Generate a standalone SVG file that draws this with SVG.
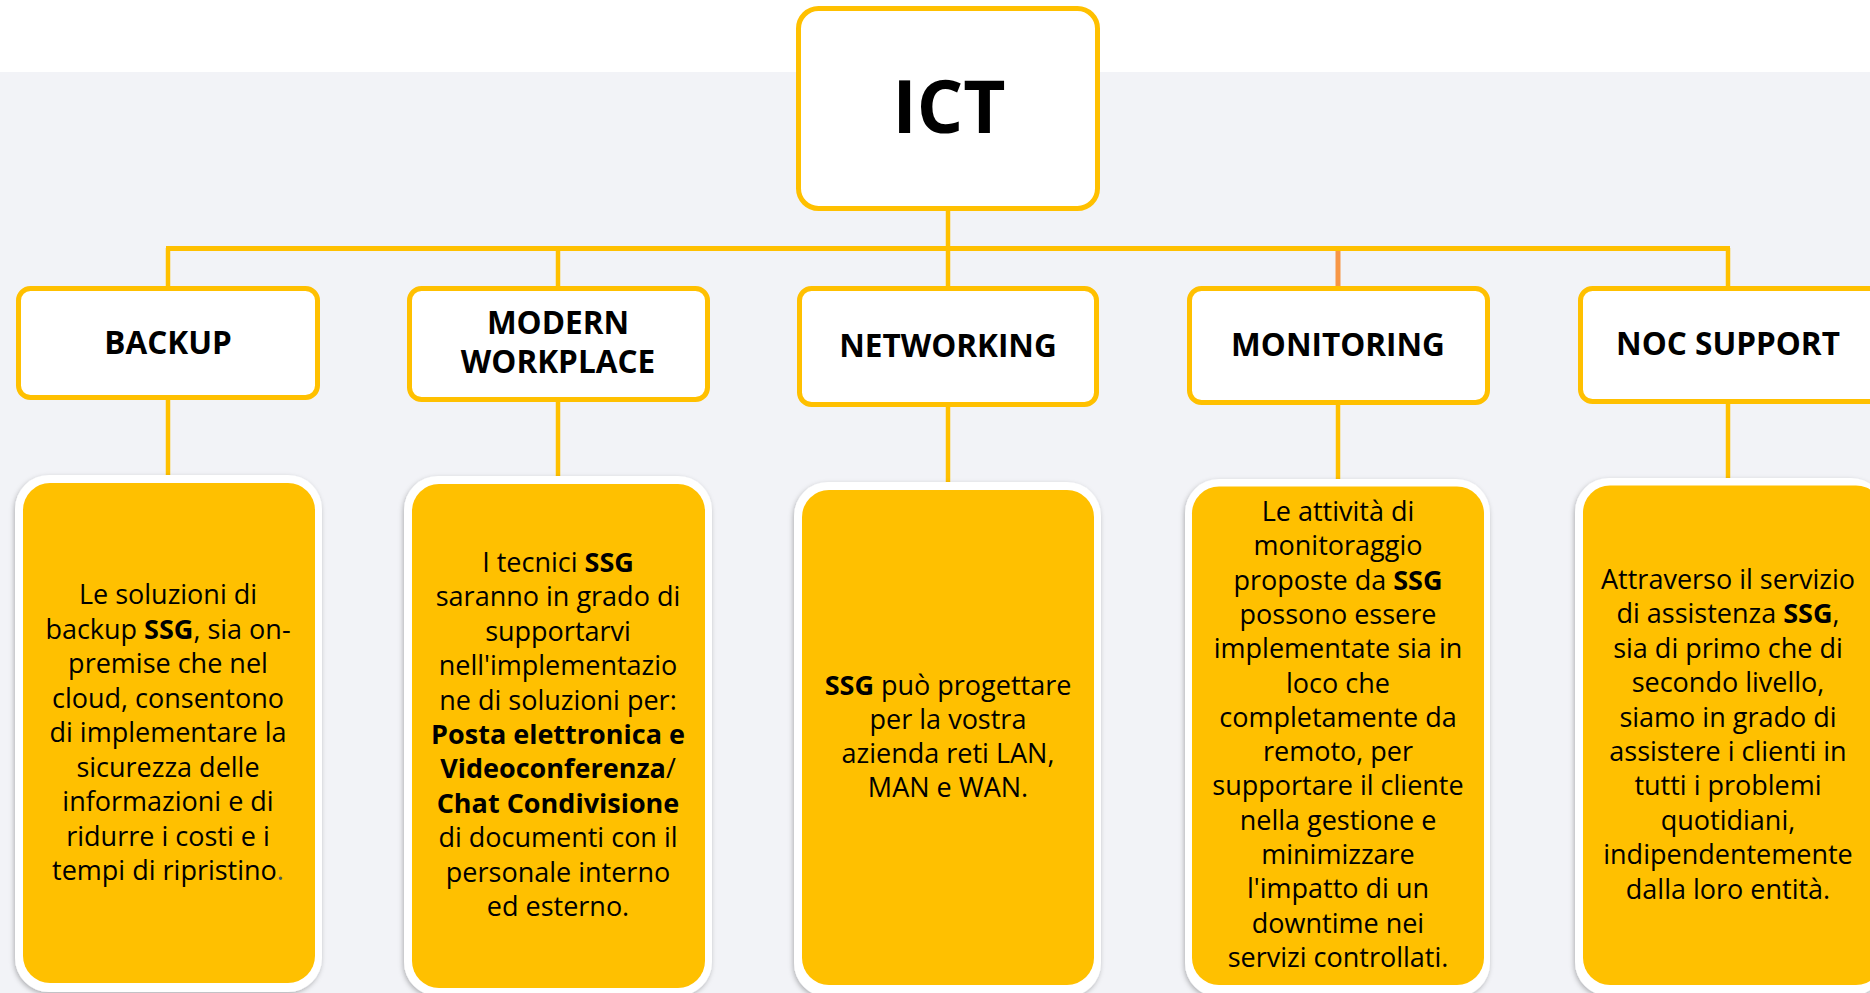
<svg xmlns="http://www.w3.org/2000/svg" width="1870" height="993" viewBox="0 0 1870 993">
<defs>
<filter id="sh" x="-10%" y="-10%" width="120%" height="120%">
<feDropShadow dx="-1" dy="2" stdDeviation="2.5" flood-color="#000" flood-opacity="0.28"/>
</filter>
<style>
.cat{fill:#fff;stroke:#FFC000;stroke-width:5}
.cl{font-family:"Open Sans","Liberation Sans",sans-serif;font-weight:700;font-size:31.5px;fill:#000;text-anchor:middle}
.ict{font-family:"Open Sans","Liberation Sans",sans-serif;font-weight:700;font-size:73px;fill:#000;text-anchor:middle}
.outer{fill:#fff;filter:url(#sh)}
.inner{fill:#FFC000}
.dt{font-family:"Open Sans","Liberation Sans",sans-serif;font-size:27px;fill:#000;text-anchor:middle}
.b{font-weight:700}
.ln{stroke:#FFC000;stroke-width:4.5;fill:none}
.bus{stroke:#FFC000;stroke-width:5;fill:none}
.or{stroke:#F79646;stroke-width:5;fill:none}
</style>
</defs>
<rect x="0" y="0" width="1870" height="993" fill="#fff"/>
<rect x="0" y="72" width="1870" height="921" fill="#F2F3F7"/>

<g id="connectors">
<line class="ln" x1="948" y1="210" x2="948" y2="248"/>
<line class="bus" x1="166" y1="248.5" x2="1730" y2="248.5"/>
<line class="ln" x1="168" y1="248" x2="168" y2="288"/>
<line class="ln" x1="558" y1="248" x2="558" y2="288"/>
<line class="ln" x1="948" y1="248" x2="948" y2="288"/>
<line class="or" x1="1338" y1="251" x2="1338" y2="287"/>
<line class="ln" x1="1728" y1="248" x2="1728" y2="288"/>
<line class="ln" x1="168" y1="398" x2="168" y2="477"/>
<line class="ln" x1="558" y1="400" x2="558" y2="478"/>
<line class="ln" x1="948" y1="405" x2="948" y2="484"/>
<line class="ln" x1="1338" y1="403" x2="1338" y2="481"/>
<line class="ln" x1="1728" y1="402" x2="1728" y2="480"/>
</g>

<g id="ict">
<rect class="cat" x="798.5" y="8.5" width="299" height="200" rx="20"/>
<text class="ict" x="949" y="133">ICT</text>
</g>

<g id="backup">
<rect class="cat" x="18.5" y="288.5" width="299" height="109" rx="12"/>
<text class="cl" x="168" y="354">BACKUP</text>
</g>
<g id="modern-workplace">
<rect class="cat" x="409.5" y="288.5" width="298" height="111" rx="12"/>
<text class="cl" x="558" y="334">MODERN</text>
<text class="cl" x="558" y="373">WORKPLACE</text>
</g>
<g id="networking">
<rect class="cat" x="799.5" y="288.5" width="297" height="116" rx="12"/>
<text class="cl" x="948" y="357">NETWORKING</text>
</g>
<g id="monitoring">
<rect class="cat" x="1189.5" y="288.5" width="298" height="114" rx="12"/>
<text class="cl" x="1338" y="356">MONITORING</text>
</g>
<g id="noc-support">
<rect class="cat" x="1580.5" y="288.5" width="300" height="113" rx="12"/>
<text class="cl" x="1728" y="355">NOC SUPPORT</text>
</g>

<g id="backup-detail">
<rect class="outer" x="15" y="475" width="307" height="517" rx="34"/>
<rect class="inner" x="23" y="483" width="292" height="500" rx="27"/>
<text class="dt" x="168" y="604">Le soluzioni di</text>
<text class="dt" x="168" y="638.5">backup <tspan class="b">SSG</tspan>, sia on-</text>
<text class="dt" x="168" y="673">premise che nel</text>
<text class="dt" x="168" y="707.5">cloud, consentono</text>
<text class="dt" x="168" y="742">di implementare la</text>
<text class="dt" x="168" y="776.5">sicurezza delle</text>
<text class="dt" x="168" y="811">informazioni e di</text>
<text class="dt" x="168" y="845.5">ridurre i costi e i</text>
<text class="dt" x="168" y="880">tempi di ripristino<tspan fill="#44546A">.</tspan></text>
</g>

<g id="modern-workplace-detail">
<rect class="outer" x="404" y="476" width="308" height="520" rx="34"/>
<rect class="inner" x="412" y="484" width="293" height="504" rx="27"/>
<text class="dt" x="558" y="572">I tecnici <tspan class="b">SSG</tspan></text>
<text class="dt" x="558" y="606.4">saranno in grado di</text>
<text class="dt" x="558" y="640.8">supportarvi</text>
<text class="dt" x="558" y="675.2">nell'implementazio</text>
<text class="dt" x="558" y="709.6">ne di soluzioni per:</text>
<text class="dt b" x="558" y="744">Posta elettronica e</text>
<text class="dt" x="558" y="778.4"><tspan class="b">Videoconferenza</tspan>/</text>
<text class="dt b" x="558" y="812.8">Chat Condivisione</text>
<text class="dt" x="558" y="847.2">di documenti con il</text>
<text class="dt" x="558" y="881.6">personale interno</text>
<text class="dt" x="558" y="916">ed esterno.</text>
</g>

<g id="networking-detail">
<rect class="outer" x="794" y="482" width="307" height="515" rx="34"/>
<rect class="inner" x="802" y="490" width="292" height="495" rx="27"/>
<text class="dt" x="948" y="694.5"><tspan class="b">SSG</tspan> può progettare</text>
<text class="dt" x="948" y="728.8">per la vostra</text>
<text class="dt" x="948" y="763.1">azienda reti LAN,</text>
<text class="dt" x="948" y="797.4">MAN e WAN.</text>
</g>

<g id="monitoring-detail">
<rect class="outer" x="1185" y="479" width="305" height="518" rx="34"/>
<rect class="inner" x="1192" y="486.5" width="292" height="498.5" rx="27"/>
<text class="dt" x="1338" y="521">Le attività di</text>
<text class="dt" x="1338" y="555.3">monitoraggio</text>
<text class="dt" x="1338" y="589.6">proposte da <tspan class="b">SSG</tspan></text>
<text class="dt" x="1338" y="623.9">possono essere</text>
<text class="dt" x="1338" y="658.2">implementate sia in</text>
<text class="dt" x="1338" y="692.5">loco che</text>
<text class="dt" x="1338" y="726.8">completamente da</text>
<text class="dt" x="1338" y="761.1">remoto, per</text>
<text class="dt" x="1338" y="795.4">supportare il cliente</text>
<text class="dt" x="1338" y="829.7">nella gestione e</text>
<text class="dt" x="1338" y="864">minimizzare</text>
<text class="dt" x="1338" y="898.3">l'impatto di un</text>
<text class="dt" x="1338" y="932.6">downtime nei</text>
<text class="dt" x="1338" y="966.9">servizi controllati.</text>
</g>

<g id="noc-support-detail">
<rect class="outer" x="1575" y="478" width="310" height="518" rx="34"/>
<rect class="inner" x="1583" y="485.5" width="300" height="499.5" rx="27"/>
<text class="dt" x="1728" y="589">Attraverso il servizio</text>
<text class="dt" x="1728" y="623.4">di assistenza <tspan class="b">SSG</tspan>,</text>
<text class="dt" x="1728" y="657.8">sia di primo che di</text>
<text class="dt" x="1728" y="692.2">secondo livello,</text>
<text class="dt" x="1728" y="726.6">siamo in grado di</text>
<text class="dt" x="1728" y="761">assistere i clienti in</text>
<text class="dt" x="1728" y="795.4">tutti i problemi</text>
<text class="dt" x="1728" y="829.8">quotidiani,</text>
<text class="dt" x="1728" y="864.2">indipendentemente</text>
<text class="dt" x="1728" y="898.6">dalla loro entità.</text>
</g>
</svg>
